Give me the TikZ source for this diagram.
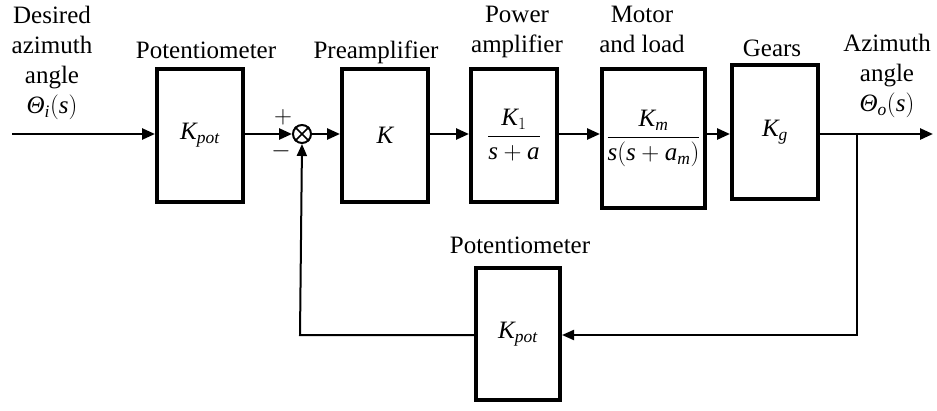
\documentclass[tikz,border=0pt]{standalone}
\usepackage{amsmath}
\usepackage{fontspec}
\setmainfont{Liberation Serif}
\usetikzlibrary{arrows.meta}
\newcommand{\vi}[1]{\text{\itshape #1}}
\begin{document}
\begin{tikzpicture}[x=1pt,y=-1pt,
  font=\fontsize{25}{30}\selectfont,
  blk/.style={draw,line width=4pt,inner sep=0pt,minimum width=86pt,minimum height=133pt},
  lbl/.style={inner sep=0pt,align=center},
  sig/.style={line width=2.6pt,-{Triangle[length=13pt,width=11pt]}},
  fb/.style={line width=2pt},
  fba/.style={line width=2pt,-{Triangle[length=12pt,width=10pt]}}]
\useasboundingbox (0,0) rectangle (937,410);
% blocks
\node[blk] (pot1) at (200,135.5) {$\vi{K}_{\vi{pot}}$};
\node[blk] (pre) at (385,135.5) {$\vi{K}$};
\node[blk] (pow) at (514,135.5) {$\dfrac{\vi{K}_{1}}{\vi{s}+\vi{a}}$};
\node[blk,minimum width=103pt,minimum height=139pt] (mot) at (653.5,138.5) {$\dfrac{\vi{K}_{\vi{m}}}{\vi{s}(\vi{s}+\vi{a}_{\vi{m}})}$};
\node[blk,minimum height=134pt] (gear) at (775,132) {$\vi{K}_{\vi{g}}$};
\node[blk,minimum width=84pt,minimum height=132pt] (pot2) at (518,334) {$\vi{K}_{\vi{pot}}$};
% summing junction
\node[draw,circle,line width=2pt,minimum size=18pt,inner sep=0pt] (sum) at (302,134) {};
\draw[line width=1.6pt] (sum.north west) -- (sum.south east) (sum.north east) -- (sum.south west);
\node[lbl] (plus) at (283,117) {$+$};
\node[lbl] (minus) at (281,151) {$-$};
% labels
\node[lbl,anchor=north] (tin) at (52,6) {Desired\\azimuth\\angle\\$\vi{Θ}_{\vi{i}}(\vi{s})$};
\node[lbl] (tpot1) at (206,50) {Potentiometer};
\node[lbl,anchor=base] (tpre) at (376,58) {Preamplifier};
\node[lbl,anchor=north] (tpow) at (517,6) {Power\\amplifier};
\node[lbl,anchor=north] (tmot) at (642,6) {Motor\\and load};
\node[lbl,anchor=base] (tgear) at (772,56) {Gears};
\node[lbl,anchor=north] (tout) at (887,34) {Azimuth\\angle\\$\vi{Θ}_{\vi{o}}(\vi{s})$};
\node[lbl] (tpot2) at (520,245) {Potentiometer};
% coordinates
\coordinate (in) at (12,134);
\coordinate (out) at (933,134);
\coordinate (br) at (857,134);
\coordinate (brd) at (857,335);
\coordinate (fbl) at (300,335);
% connectors
\draw[sig] (in) -- (pot1.west |- in);
\draw[sig] (pot1.east |- sum) -- (sum.west);
\draw[sig] (sum.east) -- (pre.west |- sum);
\draw[sig] (pre.east |- sum) -- (pow.west |- sum);
\draw[sig] (pow.east |- sum) -- (mot.west |- sum);
\draw[sig] (mot.east |- sum) -- (gear.west |- sum);
\draw[sig] (gear.east |- sum) -- (out);
\draw[fba] (br) -- (brd) -- (pot2.east |- brd);
\draw[fba] (pot2.west |- brd) -- (fbl) -- (sum.south);
\end{tikzpicture}
\end{document}
